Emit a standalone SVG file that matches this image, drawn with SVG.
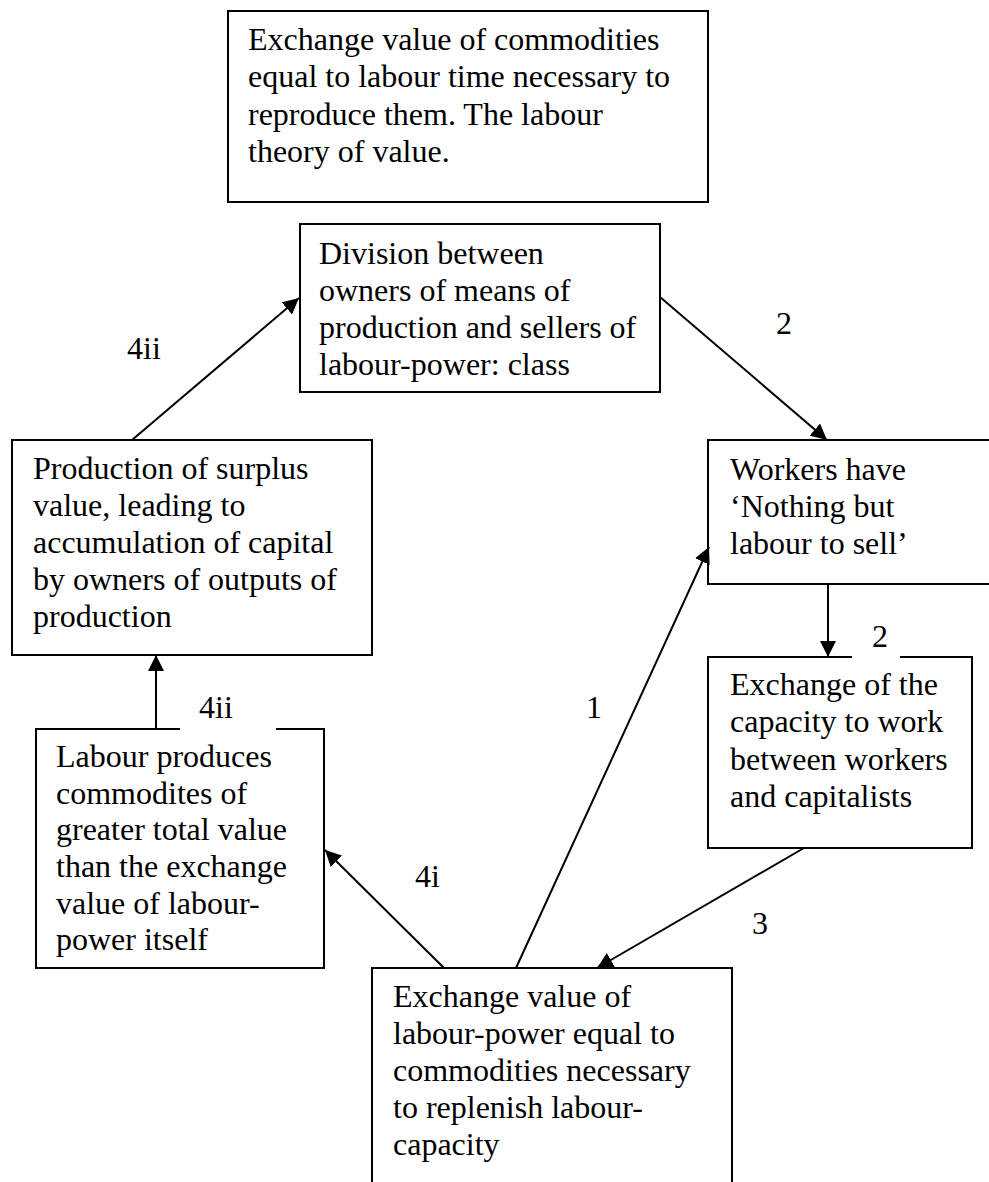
<svg xmlns="http://www.w3.org/2000/svg" width="989" height="1182" viewBox="0 0 989 1182">
<style>
.box{fill:#fff;stroke:#000;stroke-width:2}
.t{font-family:"Liberation Serif","Times New Roman",serif;font-size:32px;fill:#000}
.c{stroke:#000;stroke-width:2;fill:none;marker-end:url(#ah)}
.bg{fill:#fff}
</style>
<defs>
<marker id="ah" markerUnits="userSpaceOnUse" markerWidth="16" markerHeight="16" refX="16" refY="8" orient="auto">
<path d="M0,0 L16,8 L0,16 z" fill="#000"/>
</marker>
</defs>
<rect width="989" height="1182" fill="#fff"/>
<g id="n-theory">
<rect class="box" x="228" y="11" width="480" height="191"/>
<text class="t" x="248" y="50">Exchange value of commodities</text>
<text class="t" x="248" y="87.3">equal to labour time necessary to</text>
<text class="t" x="248" y="124.6">reproduce them. The labour</text>
<text class="t" x="248" y="161.9">theory of value.</text>
</g>
<g id="n-division">
<rect class="box" x="300" y="224" width="360" height="168"/>
<text class="t" x="319" y="264">Division between</text>
<text class="t" x="319" y="301">owners of means of</text>
<text class="t" x="319" y="338">production and sellers of</text>
<text class="t" x="319" y="375">labour-power: class</text>
</g>
<g id="n-surplus">
<rect class="box" x="12" y="440" width="360" height="215"/>
<text class="t" x="33" y="479">Production of surplus</text>
<text class="t" x="33" y="516">value, leading to</text>
<text class="t" x="33" y="553">accumulation of capital</text>
<text class="t" x="33" y="590">by owners of outputs of</text>
<text class="t" x="33" y="627">production</text>
</g>
<g id="n-workers">
<rect class="box" x="708" y="440" width="300" height="144"/>
<text class="t" x="730" y="480">Workers have</text>
<text class="t" x="730" y="517">‘Nothing but</text>
<text class="t" x="730" y="554">labour to sell’</text>
</g>
<g id="n-capacity">
<rect class="box" x="708" y="657" width="264" height="191"/>
<text class="t" x="730" y="695">Exchange of the</text>
<text class="t" x="730" y="732">capacity to work</text>
<text class="t" x="730" y="770">between workers</text>
<text class="t" x="730" y="807">and capitalists</text>
</g>
<g id="n-labour">
<rect class="box" x="36" y="729" width="288" height="239"/>
<text class="t" x="56" y="767">Labour produces</text>
<text class="t" x="56" y="803.6">commodites of</text>
<text class="t" x="56" y="840.3">greater total value</text>
<text class="t" x="56" y="877">than the exchange</text>
<text class="t" x="56" y="913.6">value of labour-</text>
<text class="t" x="56" y="950.3">power itself</text>
</g>
<g id="n-labourpower">
<rect class="box" x="372" y="968" width="360" height="240"/>
<text class="t" x="393" y="1007">Exchange value of</text>
<text class="t" x="393" y="1044">labour-power equal to</text>
<text class="t" x="393" y="1081">commodities necessary</text>
<text class="t" x="393" y="1118">to replenish labour-</text>
<text class="t" x="393" y="1155">capacity</text>
</g>
<g id="connectors">
<line class="c" x1="132" y1="440" x2="299" y2="298"/>
<line class="c" x1="660" y1="297" x2="827" y2="440"/>
<line class="c" x1="828" y1="584" x2="828" y2="657"/>
<line class="c" x1="804" y1="848" x2="597" y2="968"/>
<line class="c" x1="516" y1="968" x2="709" y2="547"/>
<line class="c" x1="444" y1="968" x2="325" y2="850"/>
<line class="c" x1="156" y1="729" x2="156" y2="655"/>
<rect class="bg" x="852" y="626" width="48" height="33"/>
<rect class="bg" x="180" y="698" width="96" height="33"/>
<text class="t" x="127" y="359">4ii</text>
<text class="t" x="776" y="334">2</text>
<text class="t" x="872" y="647">2</text>
<text class="t" x="586" y="718">1</text>
<text class="t" x="752" y="934">3</text>
<text class="t" x="415" y="887">4i</text>
<text class="t" x="199" y="718">4ii</text>
</g>
</svg>
